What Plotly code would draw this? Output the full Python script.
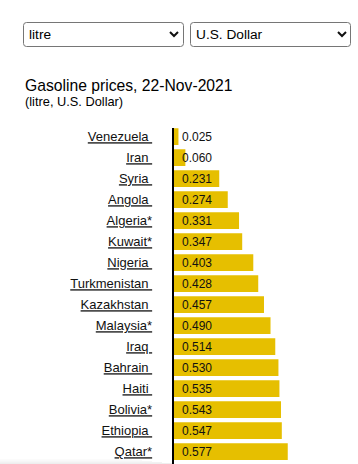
import plotly.graph_objects as go

# ---- data ----
countries = ["Venezuela", "Iran", "Syria", "Angola", "Algeria*", "Kuwait*", "Nigeria",
             "Turkmenistan", "Kazakhstan", "Malaysia*", "Iraq", "Bahrain", "Haiti",
             "Bolivia*", "Ethiopia", "Qatar*"]
prices = [0.025, 0.060, 0.231, 0.274, 0.331, 0.347, 0.403, 0.428, 0.457, 0.490,
          0.514, 0.530, 0.535, 0.543, 0.547, 0.577]
value_labels = ["0.025", "0.060", "0.231", "0.274", "0.331", "0.347", "0.403", "0.428",
                "0.457", "0.490", "0.514", "0.530", "0.535", "0.543", "0.547", "0.577"]
title_text = "Gasoline prices, 22-Nov-2021"
subtitle_text = "(litre, U.S. Dollar)"
unit_choice = "litre"
currency_choice = "U.S. Dollar"

W, H = 358, 464
FONT = "Liberation Sans, Arial, sans-serif"
BAR = "#e6bf00"


def px(x):
    return x / W


def py(y):
    return 1 - y / H


tick_text = []
for c in countries:
    lab = c if c.endswith("*") else c + "\u00a0"
    tick_text.append("<u>" + lab + "</u>")

fig = go.Figure()
fig.add_trace(go.Bar(
    x=prices, y=countries, orientation="h",
    marker=dict(color=BAR, line=dict(width=0)),
    hoverinfo="skip",
))

for c, t in zip(countries, value_labels):
    fig.add_annotation(x=0, y=c, xref="x", yref="y", text=t, showarrow=False,
                       xanchor="left", yanchor="middle", xshift=6,
                       font=dict(family=FONT, size=12, color="#111"))

axis_left = 173.5
px_per_unit = 198.0
x_max = (W - axis_left) / px_per_unit
row = 21.0
y_top_px = 128.0
first_center = 136.7
top_val = -(first_center - y_top_px) / row
bottom_val = top_val + (H - y_top_px) / row

shapes = []


def rbox(x0, y0, x1, y1, r=3):
    path = (f"M {px(x0 + r)},{py(y0)} L {px(x1 - r)},{py(y0)} "
            f"Q {px(x1)},{py(y0)} {px(x1)},{py(y0 + r)} "
            f"L {px(x1)},{py(y1 - r)} Q {px(x1)},{py(y1)} {px(x1 - r)},{py(y1)} "
            f"L {px(x0 + r)},{py(y1)} Q {px(x0)},{py(y1)} {px(x0)},{py(y1 - r)} "
            f"L {px(x0)},{py(y0 + r)} Q {px(x0)},{py(y0)} {px(x0 + r)},{py(y0)} Z")
    return dict(type="path", xref="paper", yref="paper", path=path,
                line=dict(color="#767676", width=1), fillcolor="white", layer="above")


def chevron(xc, yc):
    path = (f"M {px(xc - 4)},{py(yc - 2)} L {px(xc)},{py(yc + 2)} "
            f"L {px(xc + 4)},{py(yc - 2)}")
    return dict(type="path", xref="paper", yref="paper", path=path,
                line=dict(color="#111", width=2), layer="above")


shapes.append(rbox(23.5, 22.5, 183.5, 46.5))
shapes.append(rbox(190.5, 22.5, 350.5, 46.5))
shapes.append(chevron(174, 34))
shapes.append(chevron(342, 34))

# faint shadow along the bottom-left edge seen in the screenshot
for i, a in enumerate([0.015, 0.025, 0.035, 0.05, 0.065]):
    shapes.append(dict(type="rect", xref="paper", yref="paper",
                       x0=0, x1=px(172 - 10 * (4 - i)), y0=py(459 + i), y1=py(460 + i),
                       fillcolor=f"rgba(0,0,0,{a})", line=dict(width=0), layer="below"))

fig.add_annotation(xref="paper", yref="paper", x=px(27), y=py(34.5), text=unit_choice,
                   showarrow=False, xanchor="left", yanchor="middle",
                   font=dict(family=FONT, size=13.7, color="black"))
fig.add_annotation(xref="paper", yref="paper", x=px(194), y=py(34.5), text=currency_choice,
                   showarrow=False, xanchor="left", yanchor="middle",
                   font=dict(family=FONT, size=13.7, color="black"))
fig.add_annotation(xref="paper", yref="paper", x=px(22.5), y=py(86), text=title_text,
                   showarrow=False, xanchor="left", yanchor="middle",
                   font=dict(family=FONT, size=15.7, color="black"))
fig.add_annotation(xref="paper", yref="paper", x=px(22.5), y=py(101.5), text=subtitle_text,
                   showarrow=False, xanchor="left", yanchor="middle",
                   font=dict(family=FONT, size=12.8, color="black"))

fig.update_layout(
    width=W, height=H,
    margin=dict(l=0, r=0, t=0, b=0),
    paper_bgcolor="white", plot_bgcolor="white",
    showlegend=False,
    bargap=0.205,
    shapes=shapes,
    font=dict(family=FONT, color="black"),
    xaxis=dict(domain=[px(axis_left), 1], range=[0, x_max], showgrid=False,
               zeroline=False, showticklabels=False, ticks="", showline=False,
               fixedrange=True),
    yaxis=dict(domain=[0, py(y_top_px)], type="category",
               categoryorder="array", categoryarray=countries,
               tickmode="array", tickvals=countries, ticktext=tick_text,
               range=[bottom_val, top_val], showgrid=False, zeroline=False,
               showline=True, linecolor="black", linewidth=1.5,
               ticks="outside", ticklen=17, tickcolor="rgba(0,0,0,0)",
               tickfont=dict(family=FONT, size=13, color="#111"),
               fixedrange=True),
)

fig.write_html("out.html", config={"displayModeBar": False},
               post_script="document.body.style.margin='0';")
